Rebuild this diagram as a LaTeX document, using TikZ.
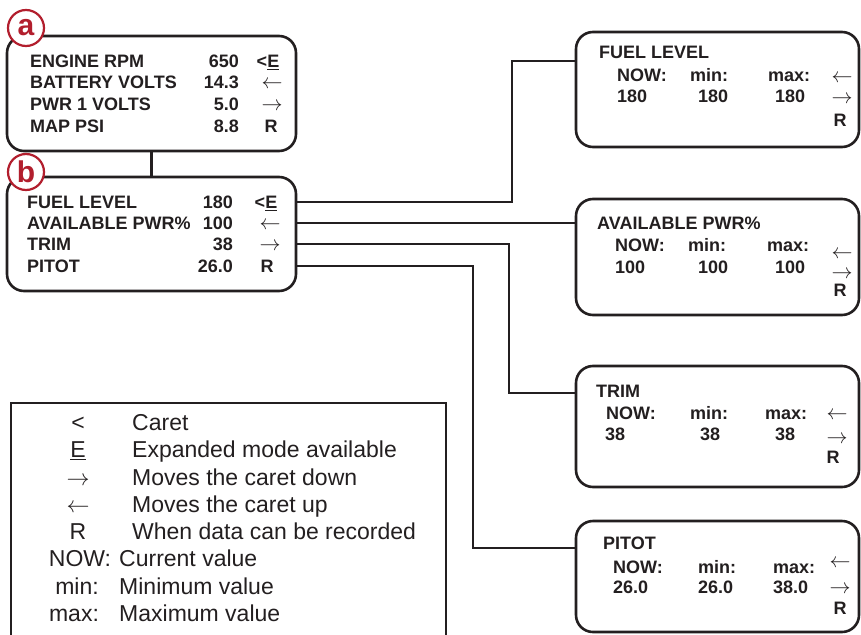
\RequirePackage{fix-cm}
\documentclass[tikz,border=0pt]{standalone}
\usepackage{fontspec}
\setmainfont{Liberation Sans}
\usepackage{xcolor}
\definecolor{inkcol}{RGB}{35,31,32}
\definecolor{markcol}{RGB}{178,30,45}
\usepackage{tikz}
\usetikzlibrary{positioning,calc}

\begin{document}
\begin{tikzpicture}[x=1pt, y=-1pt,
  panel/.style={rectangle, rounded corners=17pt, draw=inkcol, line width=2.6pt, fill=white, inner sep=0pt},
  badge/.style={circle, draw=markcol, line width=2.2pt, fill=white, minimum size=36pt, inner sep=0pt,
                text=markcol, font=\fontsize{30}{30}\selectfont\bfseries},
  rowt/.style={inner sep=0pt, text=inkcol, font=\fontsize{18}{20}\selectfont\bfseries,
               text height=13pt, text depth=0pt},
  keyt/.style={rowt, font=\fontsize{21}{21}\selectfont},
  legt/.style={inner sep=0pt, text=inkcol, font=\fontsize{23}{25}\selectfont,
               text height=16.5pt, text depth=0pt},
  legbox/.style={rectangle, draw=inkcol, line width=2pt, inner sep=0pt},
  wire/.style={draw=inkcol, line width=2.2pt}
]
\useasboundingbox (0,0) rectangle (861,634);

%% screen a
\node[panel, minimum width=289pt, minimum height=115pt] (pa) at (151.5,93.5) {};
\node[rowt, anchor=west] (a1) at (30,61)  {ENGINE RPM};
\node[rowt, anchor=west] (a2) at (30,82)  {BATTERY VOLTS};
\node[rowt, anchor=west] (a3) at (30,104) {PWR 1 VOLTS};
\node[rowt, anchor=west] (a4) at (30,126) {MAP PSI};
\node[rowt, anchor=east] (av1) at (239,61)  {650};
\node[rowt, anchor=east] (av2) at (239,82)  {14.3};
\node[rowt, anchor=east] (av3) at (239,104) {5.0};
\node[rowt, anchor=east] (av4) at (239,126) {8.8};
\node[rowt] (as1) at (268,61)  {<\underline{E}};
\node[keyt] (as2) at (272,82)  {$\leftarrow$};
\node[keyt] (as3) at (272,104) {$\rightarrow$};
\node[rowt] (as4) at (271,126) {R};

%% screen b
\node[panel, minimum width=289pt, minimum height=114pt] (pb) at (151.5,234) {};
\node[rowt, anchor=west] (b1) at (27,202) {FUEL LEVEL};
\node[rowt, anchor=west] (b2) at (27,223) {AVAILABLE PWR\%};
\node[rowt, anchor=west] (b3) at (27,244) {TRIM};
\node[rowt, anchor=west] (b4) at (27,266) {PITOT};
\node[rowt, anchor=east] (bv1) at (233,202) {180};
\node[rowt, anchor=east] (bv2) at (233,223) {100};
\node[rowt, anchor=east] (bv3) at (233,244) {38};
\node[rowt, anchor=east] (bv4) at (233,266) {26.0};
\node[rowt] (bs1) at (266,202) {<\underline{E}};
\node[keyt] (bs2) at (270,223) {$\leftarrow$};
\node[keyt] (bs3) at (270,244) {$\rightarrow$};
\node[rowt] (bs4) at (267,266) {R};

%% badges
\node[badge] (ca) at (26,28)  {a};
\node[badge] (cb) at (26,172) {b};

%% expanded screens
\node[panel, minimum width=283pt, minimum height=115pt] (fuel) at (717.5,89.5) {};
\node[rowt, anchor=west] (f0) at (599,52) {FUEL LEVEL};
\node[rowt, anchor=west] (f1) at (617,75) {NOW:};
\node[rowt, anchor=west] (f2) at (690,75) {min:};
\node[rowt, anchor=west] (f3) at (768,75) {max:};
\node[rowt, anchor=west] (fv1) at (617,96) {180};
\node[rowt, anchor=west] (fv2) at (698,96) {180};
\node[rowt, anchor=west] (fv3) at (775,96) {180};
\node[keyt] (fs1) at (842,76)  {$\leftarrow$};
\node[keyt] (fs2) at (842,97)  {$\rightarrow$};
\node[rowt] (fs3) at (840,120) {R};

\node[panel, minimum width=283pt, minimum height=116pt] (avail) at (717.5,257) {};
\node[rowt, anchor=west] (p0) at (597,223) {AVAILABLE PWR\%};
\node[rowt, anchor=west] (p1) at (615,245) {NOW:};
\node[rowt, anchor=west] (p2) at (688,245) {min:};
\node[rowt, anchor=west] (p3) at (767,245) {max:};
\node[rowt, anchor=west] (pv1) at (615,267) {100};
\node[rowt, anchor=west] (pv2) at (698,267) {100};
\node[rowt, anchor=west] (pv3) at (775,267) {100};
\node[keyt] (ps1) at (842,252) {$\leftarrow$};
\node[keyt] (ps2) at (842,272) {$\rightarrow$};
\node[rowt] (ps3) at (840,290) {R};

\node[panel, minimum width=283pt, minimum height=121pt] (trim) at (717.5,426.5) {};
\node[rowt, anchor=west] (t0) at (596,391) {TRIM};
\node[rowt, anchor=west] (t1) at (606,413) {NOW:};
\node[rowt, anchor=west] (t2) at (690,413) {min:};
\node[rowt, anchor=west] (t3) at (765,413) {max:};
\node[rowt, anchor=west] (tv1) at (605,434) {38};
\node[rowt, anchor=west] (tv2) at (700,434) {38};
\node[rowt, anchor=west] (tv3) at (775,434) {38};
\node[keyt] (ts1) at (837,413) {$\leftarrow$};
\node[keyt] (ts2) at (837,437) {$\rightarrow$};
\node[rowt] (ts3) at (833,457) {R};

\node[panel, minimum width=283pt, minimum height=111pt] (pitot) at (717.5,576.5) {};
\node[rowt, anchor=west] (q0) at (603,543) {PITOT};
\node[rowt, anchor=west] (q1) at (613,567) {NOW:};
\node[rowt, anchor=west] (q2) at (698,567) {min:};
\node[rowt, anchor=west] (q3) at (773,567) {max:};
\node[rowt, anchor=west] (qv1) at (613,587) {26.0};
\node[rowt, anchor=west] (qv2) at (698,587) {26.0};
\node[rowt, anchor=west] (qv3) at (773,587) {38.0};
\node[keyt] (qs1) at (840,561) {$\leftarrow$};
\node[keyt] (qs2) at (840,587) {$\rightarrow$};
\node[rowt] (qs3) at (840,608) {R};

%% links
\coordinate (kfuel)  at (512,61);
\coordinate (ktrim)  at (509,393);
\coordinate (kpitot) at (473,548);
\draw[wire] (pa.south) -- (pb.north);
\draw[wire] (pb.east |- b1) -| (kfuel) -- (kfuel -| fuel.west);
\draw[wire] (pb.east |- b2) -- (b2 -| avail.west);
\draw[wire] (pb.east |- b3) -| (ktrim) -- (ktrim -| trim.west);
\draw[wire] (pb.east |- b4) -| (kpitot) -- (kpitot -| pitot.west);

%% legend
\node[legbox, minimum width=435pt, minimum height=247pt] (legend) at (228.5,526.5) {};
\node[legt] (k1) at (78,422)   {<};
\node[legt] (k2) at (78,449.5) {\underline{E}};
\node[legt] (k3) at (78,477)   {$\rightarrow$};
\node[legt] (k4) at (78,504)   {$\leftarrow$};
\node[legt] (k5) at (78,531)   {R};
\node[legt] (k6) at (80,558.5) {NOW:};
\node[legt] (k7) at (77,586)   {min:};
\node[legt] (k8) at (74,613)   {max:};
\node[legt, anchor=west] (d1) at (132,422)   {Caret};
\node[legt, anchor=west] (d2) at (132,449.5) {Expanded mode available};
\node[legt, anchor=west] (d3) at (132,477)   {Moves the caret down};
\node[legt, anchor=west] (d4) at (132,504)   {Moves the caret up};
\node[legt, anchor=west] (d5) at (132,531)   {When data can be recorded};
\node[legt, anchor=west] (d6) at (119,558.5) {Current value};
\node[legt, anchor=west] (d7) at (119,586)   {Minimum value};
\node[legt, anchor=west] (d8) at (119,613)   {Maximum value};
\end{tikzpicture}
\end{document}
